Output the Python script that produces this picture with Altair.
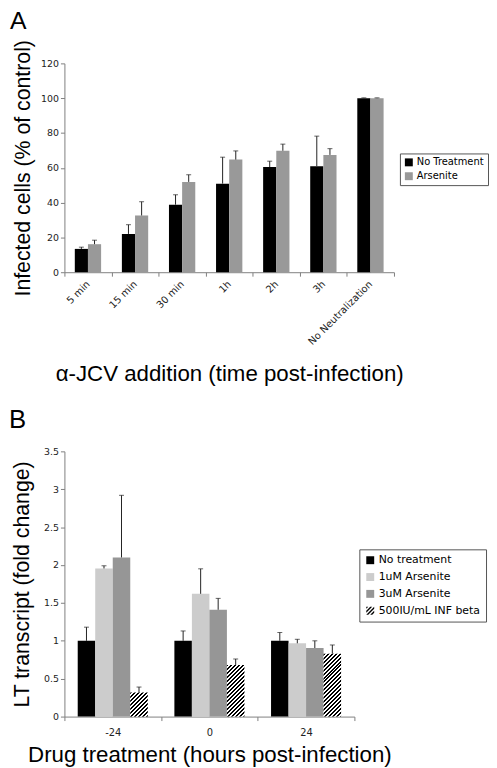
import altair as alt
import pandas as pd

# ---------------- Panel A data ----------------
a_categories = ["5 min", "15 min", "30 min", "1h", "2h", "3h", "No Neutralization"]
a_series = ["No Treatment", "Arsenite"]
a_no_treatment = [13.4, 22.0, 38.8, 50.9, 60.4, 60.9, 100.0]
a_no_treatment_err = [1.0, 5.3, 5.7, 15.2, 3.4, 17.3, 0.2]
a_arsenite = [16.1, 32.6, 51.9, 64.7, 69.8, 67.4, 100.0]
a_arsenite_err = [2.3, 7.9, 4.1, 5.0, 3.8, 3.6, 0.2]
a_colors = ["#000000", "#999999"]

# ---------------- Panel B data ----------------
b_categories = ["-24", "0", "24"]
b_series = ["No treatment", "1uM Arsenite", "3uM Arsenite", "500IU/mL INF beta"]
b_no_treatment = [1.0, 1.0, 1.0]
b_no_treatment_err = [0.18, 0.13, 0.11]
b_arsenite_1um = [1.955, 1.62, 0.967]
b_arsenite_1um_err = [0.035, 0.33, 0.053]
b_arsenite_3um = [2.10, 1.41, 0.905]
b_arsenite_3um_err = [0.82, 0.15, 0.095]
b_inf_beta = [0.318, 0.68, 0.83]
b_inf_beta_err = [0.072, 0.08, 0.115]
b_colors = ["#000000", "#cccccc", "#969696", "#000000"]


def build(cats, series, vals, errs):
    rows = []
    for s, v, e in zip(series, vals, errs):
        for c, vv, ee in zip(cats, v, e):
            rows.append({"cat": c, "series": s, "value": vv, "upper": vv + ee})
    return pd.DataFrame(rows)


df_a = build(a_categories, a_series, [a_no_treatment, a_arsenite],
             [a_no_treatment_err, a_arsenite_err])
df_b = build(b_categories, b_series,
             [b_no_treatment, b_arsenite_1um, b_arsenite_3um, b_inf_beta],
             [b_no_treatment_err, b_arsenite_1um_err, b_arsenite_3um_err, b_inf_beta_err])

LABEL_FONT = "DejaVu Sans"
TITLE_FONT = "Liberation Sans"
ERR_COLOR = "#222222"

# ---------------- Panel A ----------------
W_A, H_A = 333, 211
PO_A = 0.79

xa = alt.X("cat:N", sort=a_categories,
           scale=alt.Scale(domain=a_categories, paddingInner=0, paddingOuter=0),
           axis=alt.Axis(title="α-JCV addition (time post-infection)", labelAngle=-45,
                         labelAlign="right", labelBaseline="middle", labelPadding=6,
                         tickBand="extent", labelFontSize=10, titlePadding=16,
                         titleFontSize=22.5))
xoa = alt.XOffset("series:N", sort=a_series,
                  scale=alt.Scale(domain=a_series, paddingOuter=PO_A, paddingInner=0))
ya_scale = alt.Scale(domain=[0, 120])
ya_axis = alt.Axis(title="Infected cells (% of control)", values=[0, 20, 40, 60, 80, 100, 120],
                   titleX=-30, titleY=H_A / 2, labelFontSize=9.5, titleFontSize=21.5)

legend_a = alt.Legend(title=None, orient="none", legendX=339, legendY=91,
                      strokeColor="#555555", fillColor="#ffffff", padding=4,
                      symbolType="square", symbolSize=64, symbolStrokeWidth=0,
                      labelFont=LABEL_FONT, labelFontSize=10, labelColor="#000000",
                      rowPadding=4, labelOffset=3)

bars_a = alt.Chart(df_a).mark_bar().encode(
    x=xa, xOffset=xoa,
    y=alt.Y("value:Q", scale=ya_scale, axis=ya_axis),
    color=alt.Color("series:N", sort=a_series,
                    scale=alt.Scale(domain=a_series, range=a_colors), legend=legend_a),
)
err_a = alt.Chart(df_a).mark_rule(color=ERR_COLOR, strokeWidth=1).encode(
    x=xa, xOffset=xoa, y=alt.Y("value:Q", scale=ya_scale, axis=ya_axis), y2="upper:Q")
cap_a = alt.Chart(df_a).mark_tick(color=ERR_COLOR, orient="horizontal", size=5, thickness=1).encode(
    x=xa, xOffset=xoa, y=alt.Y("upper:Q", scale=ya_scale, axis=ya_axis))

chart_a = alt.layer(bars_a, err_a, cap_a).properties(
    width=W_A, height=H_A,
    title=alt.TitleParams("A", anchor="start", fontSize=25, font=TITLE_FONT,
                          fontWeight="normal", dx=-3, offset=6, color="#000000"))

# ---------------- Panel B ----------------
W_B, H_B = 293, 268
PO_B = 0.76
Y_MAX_B = 3.5

xb = alt.X("cat:N", sort=b_categories,
           scale=alt.Scale(domain=b_categories, paddingInner=0, paddingOuter=0),
           axis=alt.Axis(title="Drug treatment (hours post-infection)", labelAngle=0,
                         labelPadding=7, tickBand="extent", labelFontSize=10, titlePadding=6,
                         titleFontSize=22.5))
xob = alt.XOffset("series:N", sort=b_series,
                  scale=alt.Scale(domain=b_series, paddingOuter=PO_B, paddingInner=0))
yb_scale = alt.Scale(domain=[0, Y_MAX_B])
yb_axis = alt.Axis(title="LT transcript (fold change)", values=[0, 0.5, 1, 1.5, 2, 2.5, 3, 3.5],
                   format="~g", titleX=-31, titleY=H_B / 2, labelFontSize=9.5, titleFontSize=21.5)


# hatch symbol for the legend: diagonal stripes clipped to the unit square
def clip(poly, a, b, c):
    out = []
    n = len(poly)
    for i in range(n):
        p, q = poly[i], poly[(i + 1) % n]
        fp = a * p[0] + b * p[1] - c
        fq = a * q[0] + b * q[1] - c
        if fp <= 0:
            out.append(p)
        if (fp < 0 < fq) or (fq < 0 < fp):
            t = fp / (fp - fq)
            out.append((p[0] + t * (q[0] - p[0]), p[1] + t * (q[1] - p[1])))
    return out


square = [(-1, -1), (1, -1), (1, 1), (-1, 1)]
parts = []
c = -2.0
while c < 2.0:
    poly = clip(square, -1, -1, -c)          # x + y >= c
    poly = clip(poly, 1, 1, c + 0.5)         # x + y <= c + 0.5
    if len(poly) >= 3:
        parts.append("M" + " L".join(f"{x:.3f},{y:.3f}" for x, y in poly) + " Z")
    c += 1.0
hatch_path = " ".join(parts)
b_shapes = ["square", "square", "square", hatch_path]

legend_b = alt.Legend(title=None, orient="none", legendX=298, legendY=99,
                      strokeColor="#555555", fillColor="#ffffff", padding=5.5,
                      symbolSize=64, symbolStrokeWidth=0,
                      labelFont=LABEL_FONT, labelFontSize=11, labelColor="#000000",
                      rowPadding=5, labelOffset=3)
color_b = alt.Color("series:N", sort=b_series,
                    scale=alt.Scale(domain=b_series, range=b_colors), legend=legend_b)
shape_b = alt.Shape("series:N", sort=b_series,
                    scale=alt.Scale(domain=b_series, range=b_shapes), legend=legend_b)

INF = b_series[3]
bars_b = alt.Chart(df_b).transform_filter(alt.datum.series != INF).mark_bar().encode(
    x=xb, xOffset=xob, y=alt.Y("value:Q", scale=yb_scale, axis=yb_axis), color=color_b)

legend_layer_b = alt.Chart(df_b).transform_filter("false").mark_point(
    filled=True, opacity=1, size=64).encode(
    x=xb, xOffset=xob, y=alt.Y("value:Q", scale=yb_scale, axis=yb_axis),
    color=color_b, shape=shape_b)

# hatched bars: gradient stripes sized to each bar so the stripe spacing is uniform
band_b = W_B / len(b_categories)
bar_w = band_b / (len(b_series) + 2 * PO_B)
PERIOD = 4.0
hatch_layers = []
for cat, v in zip(b_categories, b_inf_beta):
    h = v * H_B / Y_MAX_B
    w = bar_w
    total = w + h
    stops = []
    k = 0
    while k * PERIOD < total:
        t0 = k * PERIOD / total
        t1 = min((k * PERIOD + PERIOD / 2) / total, 1.0)
        t2 = min((k + 1) * PERIOD / total, 1.0)
        stops += [{"offset": t0, "color": "#000000"}, {"offset": t1, "color": "#000000"},
                  {"offset": t1, "color": "#ffffff"}, {"offset": t2, "color": "#ffffff"}]
        k += 1
    s2 = w * w + h * h
    grad = {"gradient": "linear", "x1": 0, "y1": 0,
            "x2": w * total / s2, "y2": h * total / s2, "stops": stops}
    layer = alt.Chart(df_b).transform_filter(
        (alt.datum.series == INF) & (alt.datum.cat == cat)
    ).mark_bar(fill=grad, strokeWidth=0).encode(
        x=xb, xOffset=xob, y=alt.Y("value:Q", scale=yb_scale, axis=yb_axis))
    hatch_layers.append(layer)

err_b = alt.Chart(df_b).mark_rule(color=ERR_COLOR, strokeWidth=1).encode(
    x=xb, xOffset=xob, y=alt.Y("value:Q", scale=yb_scale, axis=yb_axis), y2="upper:Q")
cap_b = alt.Chart(df_b).mark_tick(color=ERR_COLOR, orient="horizontal", size=5, thickness=1).encode(
    x=xb, xOffset=xob, y=alt.Y("upper:Q", scale=yb_scale, axis=yb_axis))

chart_b = alt.layer(bars_b, *hatch_layers, legend_layer_b, err_b, cap_b).properties(
    width=W_B, height=H_B,
    title=alt.TitleParams("B", anchor="start", fontSize=26, font=TITLE_FONT,
                          fontWeight="normal", dx=-3, offset=14, color="#000000"))

chart = alt.vconcat(chart_a, chart_b, spacing=22).resolve_scale(
    color="independent", shape="independent", x="independent", y="independent",
    xOffset="independent"
).properties(padding={"top": -4, "left": 0, "right": 0, "bottom": 0}).configure_view(
    stroke=None
).configure_axis(
    grid=False, domainColor="#808080", tickColor="#808080", tickSize=4,
    labelColor="#222222", labelFont=LABEL_FONT,
    titleFont=TITLE_FONT, titleFontWeight="normal", titleColor="#000000",
)

chart.save("out.html", embed_options={"renderer": "svg", "actions": False})
